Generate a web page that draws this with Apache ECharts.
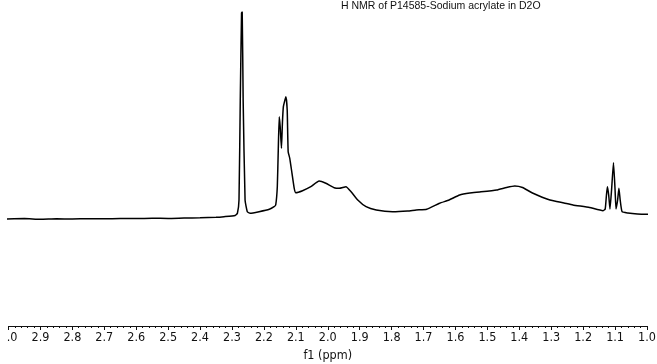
<!DOCTYPE html>
<html>
<head>
<meta charset="utf-8">
<script src="https://cdn.jsdelivr.net/npm/echarts@6/dist/echarts.min.js"></script>
<style>
html,body{margin:0;padding:0;background:#fff;}
#chart{width:657px;height:364px;}
</style>
</head>
<body>
<div id="chart"></div>
<script>
var chartTitle = 'H NMR of P14585-Sodium acrylate in D2O';
var axisName = 'f1 (ppm)';
var xMin = 1.0, xMax = 3.0, xStep = 0.1;

// chemical shift (ppm)
var ppm = [
  3.016, 2.95, 2.90, 2.85, 2.80, 2.75, 2.70, 2.65, 2.60, 2.55, 2.50, 2.45, 2.40, 2.35,
  2.325, 2.29, 2.283, 2.278, 2.274, 2.270, 2.268, 2.265, 2.259, 2.252, 2.243,
  2.215, 2.183, 2.168, 2.163, 2.158, 2.155, 2.152, 2.149, 2.145, 2.142, 2.139,
  2.131, 2.127, 2.124, 2.119, 2.112, 2.105, 2.100, 2.079, 2.053, 2.027, 2.006,
  1.980, 1.964, 1.943, 1.927, 1.906, 1.880, 1.848, 1.797, 1.75, 1.723, 1.69,
  1.650, 1.620, 1.587, 1.555, 1.524, 1.471, 1.44, 1.414, 1.39, 1.357, 1.304,
  1.26, 1.232, 1.18, 1.138, 1.131, 1.127, 1.124, 1.120, 1.116, 1.111, 1.105,
  1.100, 1.097, 1.092, 1.088, 1.084, 1.078, 1.06, 1.03, 1.00, 0.99
];
// intensity (arbitrary units)
var intensity = [
  0, 0.4, -0.3, 0.2, 0, 0.3, 0.2, 0.5, 0.4, 0.7, 0.6, 1.0, 1.2, 1.7,
  2.3, 3.5, 5.7, 19, 119, 206, 207, 119, 19, 7.3, 5.7,
  7.3, 9.7, 12.3, 14, 32.3, 69, 102.3, 92.3, 70.7, 96, 112.3,
  122.3, 109, 67.3, 60.7, 45.7, 30.7, 26.3, 28.3, 32.3, 38, 35.7,
  31.3, 30.7, 32.3, 27.3, 19, 12.3, 9, 7.3, 8, 9, 9.7,
  15.7, 19, 24, 26, 27, 29, 31.5, 33, 31.5, 25.7, 19,
  16, 14, 11.5, 8.3, 10, 24, 32.3, 24, 10, 29, 56.3,
  29, 10, 19, 30.7, 19, 7.3, 6, 5, 4.7, 4.5
];

var data = ppm.map(function (p, i) { return [p, intensity[i]]; });

var chart = echarts.init(document.getElementById('chart'), null, {renderer: 'canvas'});
chart.setOption({
  animation: false,
  backgroundColor: '#ffffff',
  title: {
    text: chartTitle,
    left: 341, top: 1, padding: 0,
    textStyle: {fontFamily: 'Liberation Sans, Arial, sans-serif', fontSize: 10.5, fontWeight: 'normal', color: '#111'}
  },
  grid: {left: 8.5, right: 10, top: 0, bottom: 38, containLabel: false, outerBoundsMode: 'none'},
  xAxis: {
    type: 'value',
    inverse: true,
    min: xMin, max: xMax, interval: xStep,
    name: axisName,
    nameLocation: 'middle',
    nameGap: 19,
    nameTextStyle: {fontFamily: 'DejaVu Sans Condensed, DejaVu Sans, sans-serif', fontSize: 12.5, color: '#111'},
    axisLine: {show: true, onZero: false, lineStyle: {color: '#111', width: 1}},
    axisTick: {show: true, inside: false, length: 4, lineStyle: {color: '#111', width: 1}},
    minorTick: {show: true, splitNumber: 5, length: 2, lineStyle: {color: '#111', width: 1}},
    splitLine: {show: false},
    axisLabel: {
      margin: 5, color: '#111', fontSize: 12.5,
      fontFamily: 'DejaVu Sans Condensed, DejaVu Sans, sans-serif',
      showMinLabel: true, showMaxLabel: true,
      formatter: function (v) { return v.toFixed(1); }
    }
  },
  yAxis: {
    type: 'value', min: -107, max: 219, show: false,
    splitLine: {show: false}
  },
  series: [{
    type: 'line',
    data: data,
    showSymbol: false,
    symbol: 'none',
    clip: false,
    smooth: 0.15,
    lineStyle: {color: '#000', width: 1.5}
  }],
  graphic: [{
    type: 'rect', z: 100, left: 0, top: 0,
    shape: {width: 6.5, height: 364},
    style: {fill: '#ffffff'}
  }]
});
</script>
</body>
</html>
